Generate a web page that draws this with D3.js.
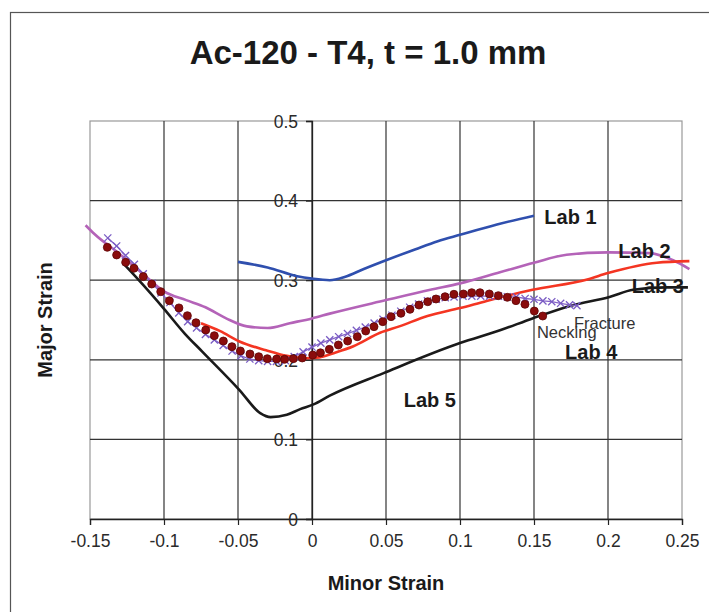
<!DOCTYPE html>
<html><head><meta charset="utf-8">
<script src="https://cdn.jsdelivr.net/npm/d3@7"></script>
<style>body{margin:0;background:#fff}svg{display:block}text{font-family:"Liberation Sans",Arial,sans-serif}</style>
</head><body>
<svg id="c" width="709" height="612"></svg>
<script>
const titleText = "Ac-120 - T4, t = 1.0 mm";
const xTicks = [-0.15,-0.1,-0.05,0,0.05,0.1,0.15,0.2,0.25];
const xTickLabels = ["-0.15","-0.1","-0.05","0","0.05","0.1","0.15","0.2","0.25"];
const yTicks = [0,0.1,0.2,0.3,0.4,0.5];
const yTickLabels = ["0","0.1","0.2","0.3","0.4","0.5"];

const lab1 = [[-0.05,0.323],[-0.03,0.316],[-0.01,0.305],[0.0,0.302],[0.012,0.300],[0.022,0.304],[0.035,0.314],[0.05,0.325],[0.07,0.339],[0.085,0.349],[0.1,0.357],[0.125,0.370],[0.15,0.381]];
const lab2 = [[-0.153,0.369],[-0.147,0.358],[-0.13,0.333],[-0.113,0.306],[-0.1,0.286],[-0.085,0.275],[-0.072,0.266],[-0.058,0.252],[-0.044,0.242],[-0.03,0.240],[-0.015,0.246],[0,0.252],[0.012,0.258],[0.05,0.275],[0.08,0.288],[0.1,0.296],[0.127,0.310],[0.15,0.322],[0.172,0.332],[0.2,0.335],[0.228,0.334],[0.244,0.325],[0.255,0.314]];
const lab3 = [[-0.075,0.246],[-0.062,0.236],[-0.049,0.223],[-0.031,0.212],[-0.017,0.205],[-0.004,0.202],[0.005,0.203],[0.014,0.208],[0.028,0.217],[0.046,0.234],[0.059,0.242],[0.078,0.255],[0.1,0.265],[0.118,0.274],[0.149,0.288],[0.186,0.301],[0.2,0.309],[0.233,0.322],[0.255,0.324]];
const lab5 = [[-0.128,0.322],[-0.117,0.300],[-0.1,0.264],[-0.086,0.233],[-0.074,0.210],[-0.049,0.162],[-0.035,0.133],[-0.028,0.128],[-0.017,0.131],[-0.008,0.138],[0.001,0.144],[0.012,0.155],[0.048,0.183],[0.1,0.221],[0.127,0.237],[0.149,0.252],[0.175,0.268],[0.201,0.279],[0.217,0.288],[0.240,0.291],[0.254,0.291]];
const necking = [[-0.1383,0.3413],[-0.132,0.3317],[-0.1259,0.3225],[-0.1203,0.315],[-0.114,0.3045],[-0.1083,0.2952],[-0.1022,0.2856],[-0.0964,0.2742],[-0.0899,0.2652],[-0.0842,0.2554],[-0.0784,0.2466],[-0.0718,0.2374],[-0.066,0.2303],[-0.0599,0.2236],[-0.0541,0.2165],[-0.0484,0.2111],[-0.0419,0.2073],[-0.036,0.2039],[-0.0302,0.2014],[-0.0239,0.201],[-0.0185,0.2006],[-0.0126,0.2014],[-0.0066,0.2023],[0.0005,0.206],[0.0057,0.2088],[0.0117,0.2131],[0.0178,0.2186],[0.0241,0.2236],[0.0306,0.229],[0.0363,0.2362],[0.0419,0.2416],[0.0478,0.2479],[0.0534,0.2542],[0.0601,0.2584],[0.0662,0.2634],[0.0723,0.2688],[0.0782,0.273],[0.0838,0.2764],[0.0899,0.2793],[0.0959,0.2823],[0.1023,0.2827],[0.1079,0.2843],[0.1135,0.2843],[0.1198,0.2827],[0.1259,0.2806],[0.132,0.2785],[0.1378,0.2743],[0.1439,0.2697],[0.1502,0.2613],[0.1559,0.255]];
const fracture = [[-0.138,0.353],[-0.132,0.343],[-0.126,0.331],[-0.120,0.320],[-0.114,0.308],[-0.108,0.296],[-0.102,0.284],[-0.096,0.272],[-0.090,0.259],[-0.084,0.248],[-0.078,0.240],[-0.072,0.232],[-0.066,0.225],[-0.060,0.218],[-0.054,0.211],[-0.048,0.205],[-0.042,0.201],[-0.036,0.199],[-0.030,0.198],[-0.024,0.198],[-0.018,0.199],[-0.012,0.204],[-0.006,0.210],[0.000,0.216],[0.006,0.221],[0.012,0.225],[0.018,0.229],[0.024,0.233],[0.030,0.237],[0.036,0.241],[0.042,0.246],[0.048,0.251],[0.054,0.256],[0.060,0.261],[0.066,0.266],[0.072,0.270],[0.078,0.274],[0.084,0.276],[0.090,0.278],[0.096,0.279],[0.102,0.280],[0.108,0.280],[0.114,0.280],[0.120,0.280],[0.126,0.280],[0.132,0.279],[0.138,0.279],[0.144,0.277],[0.150,0.276],[0.156,0.274],[0.162,0.273],[0.168,0.271],[0.174,0.269],[0.179,0.268]];

const labels = [
  {t:"Lab 1", x:0.157, y:0.371, bold:true},
  {t:"Lab 2", x:0.207, y:0.328, bold:true},
  {t:"Lab 3", x:0.216, y:0.284, bold:true},
  {t:"Fracture", x:0.177, y:0.239, bold:false},
  {t:"Necking", x:0.152, y:0.228, bold:false},
  {t:"Lab 4", x:0.171, y:0.2015, bold:true},
  {t:"Lab 5", x:0.062, y:0.141, bold:true}
];

const svg = d3.select("#c");
const x = d3.scaleLinear().domain([-0.15,0.25]).range([90,682]);
const y = d3.scaleLinear().domain([0,0.5]).range([519,121]);

svg.append("rect").attr("x",10.5).attr("y",12.5).attr("width",720).attr("height",620)
  .attr("fill","none").attr("stroke","#555").attr("stroke-width",1.2);

svg.append("rect").attr("x",x(-0.15)).attr("y",y(0.5)).attr("width",x(0.25)-x(-0.15)).attr("height",y(0)-y(0.5))
  .attr("fill","none").attr("stroke","#999").attr("stroke-width",1.2);

svg.append("g").selectAll("line").data(xTicks.slice(1,-1)).join("line")
  .attr("x1",d=>x(d)).attr("x2",d=>x(d)).attr("y1",y(0.5)).attr("y2",y(0))
  .attr("stroke","#333").attr("stroke-width",1.2);
svg.append("g").selectAll("line").data(yTicks.slice(1,-1)).join("line")
  .attr("x1",x(-0.15)).attr("x2",x(0.25)).attr("y1",d=>y(d)).attr("y2",d=>y(d))
  .attr("stroke","#333").attr("stroke-width",1.2);

const xa = svg.append("g").attr("transform",`translate(0,${y(0)})`)
  .call(d3.axisBottom(x).tickValues(xTicks).tickSize(6).tickPadding(10).tickFormat((d,i)=>xTickLabels[i]));
const ya = svg.append("g").attr("transform",`translate(${x(0)},0)`)
  .call(d3.axisLeft(y).tickValues(yTicks).tickSize(6).tickPadding(8).tickFormat((d,i)=>yTickLabels[i]));
[xa,ya].forEach(a=>{
  a.select(".domain").attr("stroke","#222").attr("stroke-width",1.3);
  a.selectAll(".tick line").attr("stroke","#222").attr("stroke-width",1.2);
  a.selectAll(".tick text").attr("fill","#2a2a2a").style("font-size","17.5px").style("font-family","Liberation Sans, Arial, sans-serif");
});
ya.selectAll(".tick text").attr("dy","0.36em");

const smooth = d3.line().x(d=>x(d[0])).y(d=>y(d[1])).curve(d3.curveMonotoneX);
const series = [
  {d:lab2, c:"#b463b8"},
  {d:lab5, c:"#1a1a1a"},
  {d:lab3, c:"#f43522"},
  {d:lab1, c:"#2f4fae"}
];
series.forEach(s=>{
  svg.append("path").datum(s.d).attr("d",smooth).attr("fill","none")
    .attr("stroke",s.c).attr("stroke-width",2.6).attr("stroke-linejoin","round");
});

const lin = d3.line().x(d=>x(d[0])).y(d=>y(d[1]));
svg.append("path").datum(fracture).attr("d",lin).attr("fill","none").attr("stroke","#8563c8").attr("stroke-width",1.3);
const cs = 3.6;
svg.append("g").selectAll("path").data(fracture).join("path")
  .attr("d",d=>{const cx=x(d[0]),cy=y(d[1]);return `M${cx-cs},${cy-cs}L${cx+cs},${cy+cs}M${cx-cs},${cy+cs}L${cx+cs},${cy-cs}`;})
  .attr("stroke","#7a5cc4").attr("stroke-width",1.3).attr("fill","none");

svg.append("g").selectAll("circle").data(necking).join("circle")
  .attr("cx",d=>x(d[0])).attr("cy",d=>y(d[1])).attr("r",4)
  .attr("fill","#8a0c0c").attr("stroke","#5e0505").attr("stroke-width",0.8);

svg.append("g").selectAll("text").data(labels).join("text")
  .attr("x",d=>x(d.x)).attr("y",d=>y(d.y))
  .attr("fill",d=>d.bold?"#1a1a1a":"#333")
  .style("font-weight",d=>d.bold?"bold":"normal")
  .style("font-size",d=>d.bold?"20px":"16.5px")
  .text(d=>d.t);

svg.append("text").attr("x",368).attr("y",64).attr("text-anchor","middle")
  .style("font-weight","bold").style("font-size","33px").attr("fill","#1a1a1a").text(titleText);
svg.append("text").attr("x",386).attr("y",590).attr("text-anchor","middle")
  .style("font-weight","bold").style("font-size","20px").attr("fill","#1a1a1a").text("Minor Strain");
svg.append("text").attr("transform","translate(52,320) rotate(-90)").attr("text-anchor","middle")
  .style("font-weight","bold").style("font-size","20px").attr("fill","#1a1a1a").text("Major Strain");
</script>
</body></html>
